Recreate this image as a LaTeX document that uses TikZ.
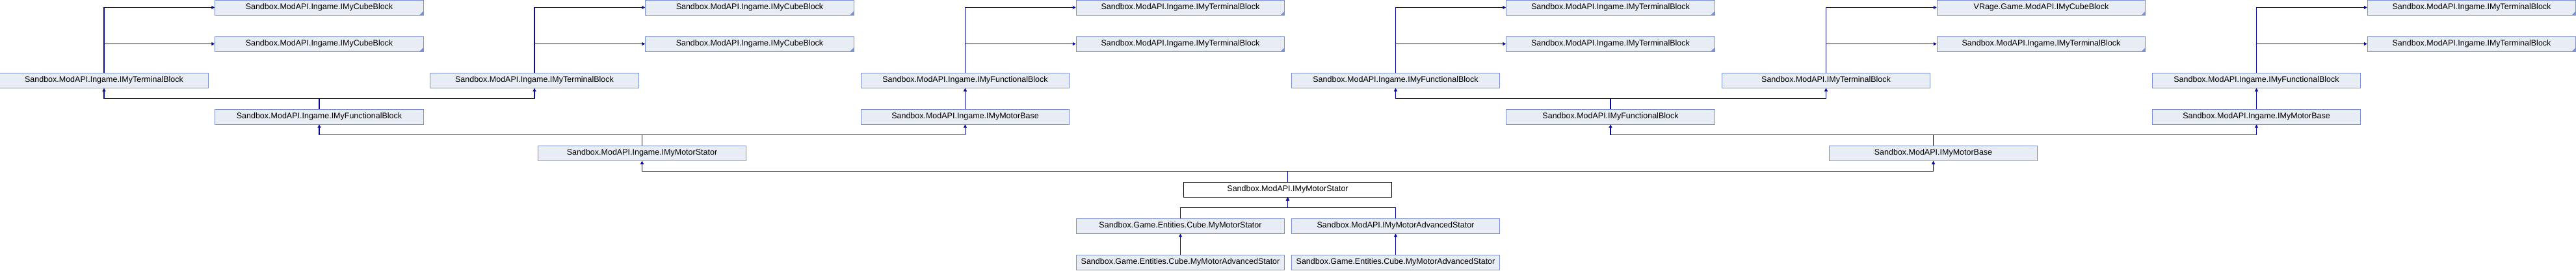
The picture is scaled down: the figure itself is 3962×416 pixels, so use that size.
\documentclass[tikz,border=0pt]{standalone}
\usepackage{fontspec}
\setmainfont{Liberation Sans}
\usetikzlibrary{arrows.meta}
\definecolor{boxfill}{HTML}{E8ECF4}
\definecolor{boxline}{HTML}{7D90D2}
\definecolor{edgeblue}{HTML}{0A0A98}
\tikzset{
    class-box/.style = {draw=boxline, fill=boxfill, line width=1pt, rectangle, inner sep=0pt,
        minimum width=320.5pt, minimum height=23pt, font=\fontsize{12.5}{14}\selectfont},
    class-box-main/.style = {class-box, draw=black, fill=white},
    class-box-cut/.style = {class-box, path picture={
        \fill[boxline] (path picture bounding box.south east) -- ++(-6pt,0pt) -- ++(6pt,6pt) -- cycle;}},
    inherit-edge/.style = {draw=edgeblue, line width=1.3pt, -{Triangle[length=5pt,width=5pt]}},
}

\begin{document}
\begin{tikzpicture}[x=1pt, y=-1pt]
\useasboundingbox (0,0) rectangle (3962,416);

% top two rows
\node[class-box-cut] (cubeA1) at (491,11.5) {Sandbox.ModAPI.Ingame.IMyCubeBlock};
\node[class-box-cut] (cubeB1) at (1153,11.5) {Sandbox.ModAPI.Ingame.IMyCubeBlock};
\node[class-box-cut] (termC1) at (1815.5,11.5) {Sandbox.ModAPI.Ingame.IMyTerminalBlock};
\node[class-box-cut] (termD1) at (2477,11.5) {Sandbox.ModAPI.Ingame.IMyTerminalBlock};
\node[class-box-cut] (vrageCube) at (3139.5,11.5) {VRage.Game.ModAPI.IMyCubeBlock};
\node[class-box-cut] (termF1) at (3801.5,11.5) {Sandbox.ModAPI.Ingame.IMyTerminalBlock};
\node[class-box-cut] (cubeA2) at (491,67.5) {Sandbox.ModAPI.Ingame.IMyCubeBlock};
\node[class-box-cut] (cubeB2) at (1153,67.5) {Sandbox.ModAPI.Ingame.IMyCubeBlock};
\node[class-box-cut] (termC2) at (1815.5,67.5) {Sandbox.ModAPI.Ingame.IMyTerminalBlock};
\node[class-box-cut] (termD2) at (2477,67.5) {Sandbox.ModAPI.Ingame.IMyTerminalBlock};
\node[class-box-cut] (termE2) at (3139.5,67.5) {Sandbox.ModAPI.Ingame.IMyTerminalBlock};
\node[class-box-cut] (termF2) at (3801.5,67.5) {Sandbox.ModAPI.Ingame.IMyTerminalBlock};

% third row
\node[class-box] (termA) at (160,123.5) {Sandbox.ModAPI.Ingame.IMyTerminalBlock};
\node[class-box] (termB) at (822,123.5) {Sandbox.ModAPI.Ingame.IMyTerminalBlock};
\node[class-box] (funcC) at (1484.5,123.5) {Sandbox.ModAPI.Ingame.IMyFunctionalBlock};
\node[class-box] (funcD) at (2146.5,123.5) {Sandbox.ModAPI.Ingame.IMyFunctionalBlock};
\node[class-box] (termE) at (2808.5,123.5) {Sandbox.ModAPI.IMyTerminalBlock};
\node[class-box] (funcF) at (3470.5,123.5) {Sandbox.ModAPI.Ingame.IMyFunctionalBlock};

% fourth and fifth rows
\node[class-box] (funcAB) at (491,179.5) {Sandbox.ModAPI.Ingame.IMyFunctionalBlock};
\node[class-box] (baseC) at (1484.5,179.5) {Sandbox.ModAPI.Ingame.IMyMotorBase};
\node[class-box] (funcDE) at (2477,179.5) {Sandbox.ModAPI.IMyFunctionalBlock};
\node[class-box] (baseF) at (3470.5,179.5) {Sandbox.ModAPI.Ingame.IMyMotorBase};
\node[class-box] (ingStator) at (987.5,235.5) {Sandbox.ModAPI.Ingame.IMyMotorStator};
\node[class-box] (motorBase) at (2973.5,235.5) {Sandbox.ModAPI.IMyMotorBase};

% the class itself and what derives from it
\node[class-box-main] (stator) at (1980.5,291.5) {Sandbox.ModAPI.IMyMotorStator};
\node[class-box] (myStator) at (1815.5,347.5) {Sandbox.Game.Entities.Cube.MyMotorStator};
\node[class-box] (advStator) at (2146.5,347.5) {Sandbox.ModAPI.IMyMotorAdvancedStator};
\node[class-box] (myAdvA) at (1815.5,403.5) {Sandbox.Game.Entities.Cube.MyMotorAdvancedStator};
\node[class-box] (myAdvB) at (2146.5,403.5) {Sandbox.Game.Entities.Cube.MyMotorAdvancedStator};

% edges into the top rows
\draw[inherit-edge] (termA.north) |- (cubeA1.west);
\draw[inherit-edge] (termA.north) |- (cubeA2.west);
\draw[inherit-edge] (termB.north) |- (cubeB1.west);
\draw[inherit-edge] (termB.north) |- (cubeB2.west);
\draw[inherit-edge] (funcC.north) |- (termC1.west);
\draw[inherit-edge] (funcC.north) |- (termC2.west);
\draw[inherit-edge] (funcD.north) |- (termD1.west);
\draw[inherit-edge] (funcD.north) |- (termD2.west);
\draw[inherit-edge] (termE.north) |- (vrageCube.west);
\draw[inherit-edge] (termE.north) |- (termE2.west);
\draw[inherit-edge] (funcF.north) |- (termF1.west);
\draw[inherit-edge] (funcF.north) |- (termF2.west);

% edges between the lower rows
\draw[inherit-edge] (funcAB.north) -- ++(0,-16) -| (termA.south);
\draw[inherit-edge] (funcAB.north) -- ++(0,-16) -| (termB.south);
\draw[inherit-edge] (baseC.north) -- (funcC.south);
\draw[inherit-edge] (funcDE.north) -- ++(0,-16) -| (funcD.south);
\draw[inherit-edge] (funcDE.north) -- ++(0,-16) -| (termE.south);
\draw[inherit-edge] (baseF.north) -- (funcF.south);
\draw[inherit-edge] (ingStator.north) -- ++(0,-16) -| (funcAB.south);
\draw[inherit-edge] (ingStator.north) -- ++(0,-16) -| (baseC.south);
\draw[inherit-edge] (motorBase.north) -- ++(0,-16) -| (funcDE.south);
\draw[inherit-edge] (motorBase.north) -- ++(0,-16) -| (baseF.south);
\draw[inherit-edge] (stator.north) -- ++(0,-16) -| (ingStator.south);
\draw[inherit-edge] (stator.north) -- ++(0,-16) -| (motorBase.south);
\draw[inherit-edge] (myStator.north) -- ++(0,-16) -| (stator.south);
\draw[inherit-edge] (advStator.north) -- ++(0,-16) -| (stator.south);
\draw[inherit-edge] (myAdvA.north) -- (myStator.south);
\draw[inherit-edge] (myAdvB.north) -- (advStator.south);
\end{tikzpicture}
\end{document}
